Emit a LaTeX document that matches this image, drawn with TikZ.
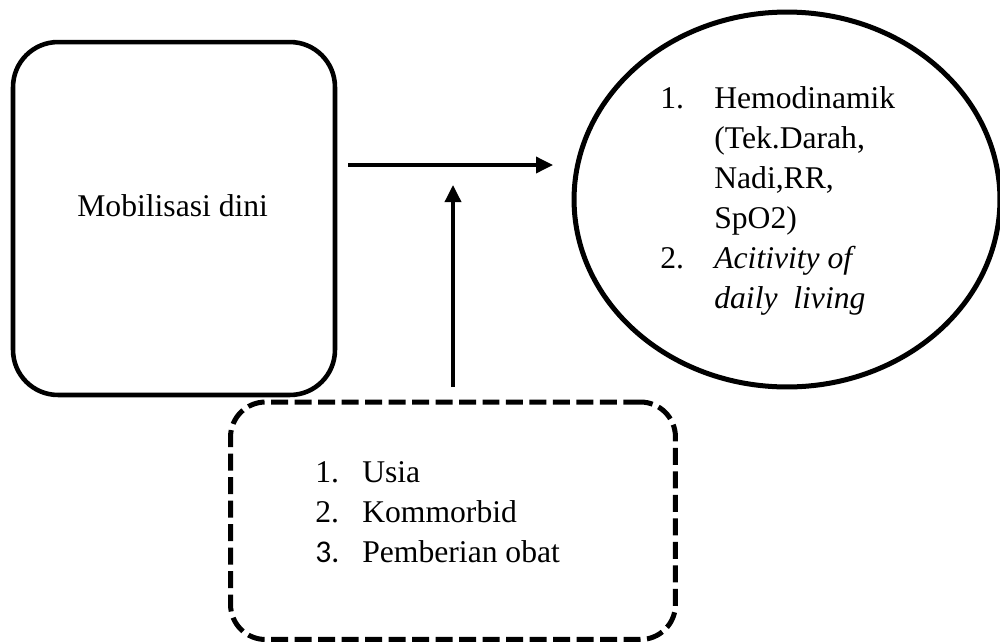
\documentclass[tikz,border=0pt]{standalone}
\usepackage{fontspec}
\setmainfont{Liberation Serif}
\newfontfamily\calibri{Carlito}
\usetikzlibrary{shapes.geometric,arrows.meta}
\tikzset{
  kotak/.style={rectangle, draw=black, line width=2.6pt, rounded corners=0.9cm, minimum width=6.44cm, minimum height=7.06cm, inner sep=0pt},
  lingkaran/.style={ellipse, draw=black, line width=2.85pt, minimum width=8.52cm, minimum height=7.5cm, inner sep=0pt},
  faktor/.style={rectangle, draw=black, line width=2.85pt, rounded corners=0.7cm, dash pattern=on 0.34cm off 0.13cm, minimum width=8.9cm, minimum height=4.75cm, inner sep=0pt},
  teks/.style={anchor=base west, inner sep=0pt, font=\fontsize{18}{22.8}\selectfont},
  panah/.style={-{Triangle[length=0.34cm, width=0.32cm]}, line width=2pt},
}

\begin{document}
\begin{tikzpicture}[x=0.02cm, y=-0.02cm]
  \useasboundingbox (0,0) rectangle (1000,643);

  % ---------------- variabel independen ----------------
  \node[kotak] (mobilisasi) at (174,218.5) {};
  \node[teks] (tmobilisasi) at (77,216) {Mobilisasi dini};

  % ---------------- variabel dependen ----------------
  \node[lingkaran] (hasil) at (787,199.5) {};
  \node[teks] (thasil) at (660,108) {%
    \begin{tabular}[t]{@{}p{1.08cm}@{}l@{}}
      1. & Hemodinamik\\
         & (Tek.Darah,\\
         & Nadi,RR,\\
         & SpO2)\\
      2. & \textit{Acitivity of}\\
         & \textit{daily\hspace{0.5em}living}
    \end{tabular}};

  % ---------------- variabel perancu ----------------
  \node[faktor] (perancu) at (453,520.75) {};
  \node[teks] (tperancu) at (315,482) {%
    \begin{tabular}[t]{@{}p{0.94cm}@{}l@{}}
      1. & Usia\\
      2. & Kommorbid\\
      {\calibri 3.} & Pemberian obat
    \end{tabular}};

  % ---------------- panah ----------------
  \coordinate (h1) at (348,165);
  \coordinate (h2) at (553,165);
  \coordinate (v1) at (453,387);
  \coordinate (v2) at (453,185);
  \draw[panah] (h1) -- (h2);
  \draw[panah] (v1) -- (v2);
\end{tikzpicture}
\end{document}
